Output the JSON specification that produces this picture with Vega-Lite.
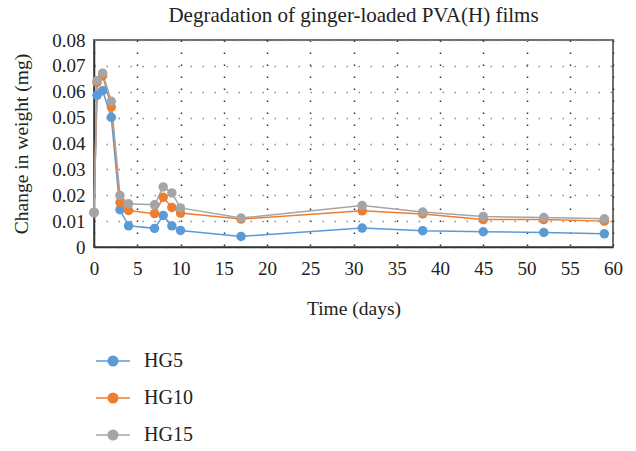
{
  "$schema": "https://vega.github.io/schema/vega-lite/v6.json",
  "autosize": {"type": "none"},
  "width": 519,
  "height": 207,
  "padding": {"left": 94, "top": 40, "right": 23, "bottom": 204},
  "background": "white",
  "title": {
    "text": "Degradation of ginger-loaded PVA(H) films",
    "font": "Liberation Serif",
    "fontSize": 21,
    "fontWeight": "normal",
    "color": "#222222",
    "anchor": "middle",
    "offset": 5
  },
  "config": {
    "view": {"stroke": "#6f6f6f", "strokeWidth": 2},
    "axis": {
      "labelFont": "Liberation Serif",
      "titleFont": "Liberation Serif",
      "labelFontSize": 19,
      "titleFontSize": 19.5,
      "titleFontWeight": "normal",
      "labelColor": "#222222",
      "titleColor": "#222222",
      "ticks": false,
      "domainColor": "#333333",
      "domainWidth": 1.5,
      "gridWidth": 1.5,
      "gridDash": [1.5, 10.5]
    }
  },
  "data": {
    "values": [
      {"series": "HG5", "day": 0, "weight": 0.0133},
      {"series": "HG5", "day": 0.35, "weight": 0.0586},
      {"series": "HG5", "day": 1, "weight": 0.0604},
      {"series": "HG5", "day": 2, "weight": 0.0501},
      {"series": "HG5", "day": 3, "weight": 0.0144},
      {"series": "HG5", "day": 4, "weight": 0.0082},
      {"series": "HG5", "day": 7, "weight": 0.0072},
      {"series": "HG5", "day": 8, "weight": 0.0122},
      {"series": "HG5", "day": 9, "weight": 0.0082},
      {"series": "HG5", "day": 10, "weight": 0.0064},
      {"series": "HG5", "day": 17, "weight": 0.0041},
      {"series": "HG5", "day": 31, "weight": 0.0073},
      {"series": "HG5", "day": 38, "weight": 0.0063},
      {"series": "HG5", "day": 45, "weight": 0.0059},
      {"series": "HG5", "day": 52, "weight": 0.0056},
      {"series": "HG5", "day": 59, "weight": 0.0051},
      {"series": "HG10", "day": 0, "weight": 0.0133},
      {"series": "HG10", "day": 0.35, "weight": 0.0636},
      {"series": "HG10", "day": 1, "weight": 0.0662},
      {"series": "HG10", "day": 2, "weight": 0.0541},
      {"series": "HG10", "day": 3, "weight": 0.0172},
      {"series": "HG10", "day": 4, "weight": 0.0141},
      {"series": "HG10", "day": 7, "weight": 0.0129},
      {"series": "HG10", "day": 8, "weight": 0.0192},
      {"series": "HG10", "day": 9, "weight": 0.0153},
      {"series": "HG10", "day": 10, "weight": 0.0131},
      {"series": "HG10", "day": 17, "weight": 0.0108},
      {"series": "HG10", "day": 31, "weight": 0.014},
      {"series": "HG10", "day": 38, "weight": 0.0128},
      {"series": "HG10", "day": 45, "weight": 0.0106},
      {"series": "HG10", "day": 52, "weight": 0.0106},
      {"series": "HG10", "day": 59, "weight": 0.01},
      {"series": "HG15", "day": 0, "weight": 0.0133},
      {"series": "HG15", "day": 0.35, "weight": 0.0643},
      {"series": "HG15", "day": 1, "weight": 0.0672},
      {"series": "HG15", "day": 2, "weight": 0.0563},
      {"series": "HG15", "day": 3, "weight": 0.0199},
      {"series": "HG15", "day": 4, "weight": 0.0167},
      {"series": "HG15", "day": 7, "weight": 0.0163},
      {"series": "HG15", "day": 8, "weight": 0.0232},
      {"series": "HG15", "day": 9, "weight": 0.0209},
      {"series": "HG15", "day": 10, "weight": 0.0151},
      {"series": "HG15", "day": 17, "weight": 0.0112},
      {"series": "HG15", "day": 31, "weight": 0.016},
      {"series": "HG15", "day": 38, "weight": 0.0135},
      {"series": "HG15", "day": 45, "weight": 0.0118},
      {"series": "HG15", "day": 52, "weight": 0.0114},
      {"series": "HG15", "day": 59, "weight": 0.0109}
    ]
  },
  "encoding": {
    "x": {
      "field": "day",
      "type": "quantitative",
      "scale": {"domain": [0, 60], "nice": false},
      "axis": {
        "title": "Time (days)",
        "values": [0, 5, 10, 15, 20, 25, 30, 35, 40, 45, 50, 55, 60],
        "labelPadding": 12,
        "titlePadding": 21,
        "gridColor": "#333333",
        "labelFlush": false
      }
    },
    "y": {
      "field": "weight",
      "type": "quantitative",
      "scale": {"domain": [0, 0.08], "nice": false},
      "axis": {
        "title": "Change in weight (mg)",
        "values": [0, 0.01, 0.02, 0.03, 0.04, 0.05, 0.06, 0.07, 0.08],
        "labelExpr": "datum.value == 0 ? '0' : format(datum.value, '.2f')",
        "labelPadding": 9,
        "titlePadding": 20,
        "gridColor": "#8c8c8c",
        "labelFlush": false
      }
    },
    "color": {
      "field": "series",
      "type": "nominal",
      "sort": ["HG5", "HG10", "HG15"],
      "scale": {"domain": ["HG5", "HG10", "HG15"], "range": ["#5B9BD5", "#ED7D31", "#A5A5A5"]},
      "legend": {
        "title": null,
        "orient": "none",
        "legendX": 1,
        "legendY": 303,
        "direction": "vertical",
        "padding": 0,
        "labelFont": "Liberation Serif",
        "labelFontSize": 20,
        "labelColor": "#222222",
        "labelOffset": 13,
        "symbolType": "M-1,0L1,0M-0.28,0A0.28,0.28,0,1,1,0.28,0A0.28,0.28,0,1,1,-0.28,0Z",
        "symbolSize": 1150,
        "symbolStrokeWidth": 1.5,
        "rowPadding": 9,
        "encode": {
          "symbols": {
            "update": {
              "fill": {"scale": "color", "field": "value"},
              "stroke": {"scale": "color", "field": "value"},
              "opacity": {"value": 1}
            }
          }
        }
      }
    }
  },
  "layer": [
    {"mark": {"type": "line", "strokeWidth": 1.5}},
    {"mark": {"type": "point", "filled": true, "size": 90, "opacity": 1}}
  ]
}
